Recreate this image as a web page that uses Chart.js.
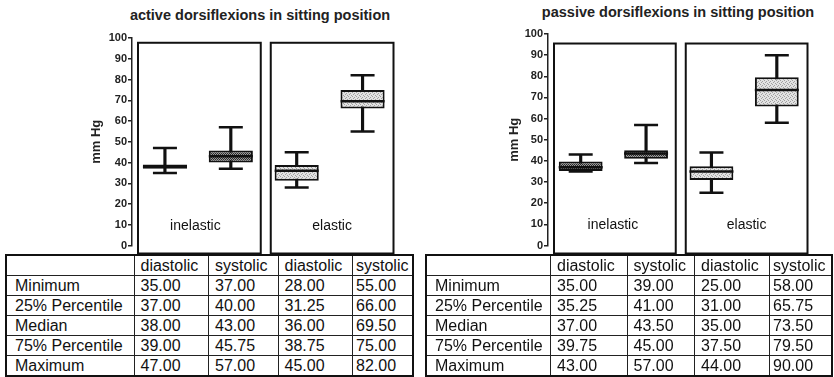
<!DOCTYPE html>
<html lang="en">
<head>
<meta charset="UTF-8">
<title>dorsiflexions in sitting position</title>
<script src="https://cdn.jsdelivr.net/npm/chart.js"></script>
<style>
    body {
        margin: 0;
        background: #fff;
        font-family: 'Liberation Sans', Arial, sans-serif;
        color: #111;
    }
    .page {
        position: relative;
        width: 834px;
        height: 377px;
        overflow: hidden;
    }
    .panel-title {
        position: absolute;
        font-weight: bold;
        font-size: 14.5px;
        white-space: nowrap;
        transform: translateX(-50%);
        color: #222;
    }
    canvas {
        position: absolute;
        top: 0;
    }
    table.stats {
        position: absolute;
        top: 254px;
        border-collapse: collapse;
        table-layout: fixed;
        font-size: 16px;
        border: 2px solid #111;
        background: #fff;
    }
    table.stats td {
        border: 1px solid #222;
        height: 19px;
        padding: 0 0 0 6px;
        line-height: 19px;
        white-space: nowrap;
        overflow: hidden;
    }
    table.stats td:first-child {
        padding-left: 8px;
    }
    table.stats td:last-child {
        padding-left: 3px;
    }
</style>
</head>
<body>
<div class="page">
    <div class="panel-title" style="left:260px; top:7px;">active dorsiflexions in sitting position</div>
    <div class="panel-title" style="left:678px; top:4px;">passive dorsiflexions in sitting position</div>
    <canvas id="active-chart" width="420" height="270" style="left:0;"></canvas>
    <canvas id="passive-chart" width="414" height="270" style="left:420px;"></canvas>
    <table class="stats" id="active-table" style="left:5px;"></table>
    <table class="stats" id="passive-table" style="left:425px;"></table>
</div>

<script>
    // categories and labels
    const categories = ['inelastic diastolic', 'inelastic systolic', 'elastic diastolic', 'elastic systolic'];
    const groupLabels = ['inelastic', 'elastic'];
    const columnLabels = ['diastolic', 'systolic', 'diastolic', 'systolic'];
    const rowLabels = ['Minimum', '25% Percentile', 'Median', '75% Percentile', 'Maximum'];
    const yMin = 0;
    const yMax = 100;
    const yStep = 10;

    // active dorsiflexions
    const activeMin = [35.00, 37.00, 28.00, 55.00];
    const activeQ1 = [37.00, 40.00, 31.25, 66.00];
    const activeMedian = [38.00, 43.00, 36.00, 69.50];
    const activeQ3 = [39.00, 45.75, 38.75, 75.00];
    const activeMax = [47.00, 57.00, 45.00, 82.00];

    // passive dorsiflexions
    const passiveMin = [35.00, 39.00, 25.00, 58.00];
    const passiveQ1 = [35.25, 41.00, 31.00, 65.75];
    const passiveMedian = [37.00, 43.50, 35.00, 73.50];
    const passiveQ3 = [39.75, 45.00, 37.50, 79.50];
    const passiveMax = [43.00, 57.00, 44.00, 90.00];

    const fontFamily = "'Liberation Sans', Arial, sans-serif";

    function makePattern(bg, fg, dots, size) {
        const c = document.createElement('canvas');
        c.width = size;
        c.height = size;
        const g = c.getContext('2d');
        g.fillStyle = bg;
        g.fillRect(0, 0, size, size);
        g.fillStyle = fg;
        dots.forEach(([x, y]) => g.fillRect(x, y, 1, 1));
        return g.createPattern(c, 'repeat');
    }

    const darkFill = makePattern('#9a9a9a', '#2a2a2a', [[0, 0], [2, 0], [1, 1], [3, 1], [0, 2], [2, 2], [1, 3], [3, 3]], 4);
    const lightFill = makePattern('#e2e2e2', '#a0a0a0', [[0, 0], [2, 1], [1, 2], [3, 3]], 4);

    // frames round each group, with the group name near the bottom
    function framePlugin(look) {
        return {
            id: 'frames',
            beforeDatasetsDraw(chart) {
                const { ctx, chartArea, scales: { x, y } } = chart;
                const split = (x.getPixelForValue(1) + x.getPixelForValue(2)) / 2;
                const top = y.getPixelForValue(look.frameTop);
                const bottom = chartArea.bottom + 8;
                const frames = [[chartArea.left + 6, split - 3], [split + 7, chartArea.right - 2]];
                ctx.save();
                ctx.strokeStyle = '#111';
                ctx.lineWidth = 2;
                ctx.fillStyle = '#111';
                ctx.font = '14px ' + fontFamily;
                ctx.textAlign = 'center';
                ctx.textBaseline = 'middle';
                frames.forEach(([l, r], i) => {
                    ctx.strokeRect(l, top, r - l, bottom - top);
                    ctx.fillText(groupLabels[i], (l + r) / 2 - look.labelShift[i], y.getPixelForValue(9.5));
                });
                ctx.restore();
            }
        };
    }

    function markerSet(label, data, radius) {
        return {
            type: 'line',
            label: label,
            data: data,
            showLine: false,
            pointStyle: 'line',
            pointRadius: radius,
            pointBorderWidth: 2.5,
            pointBorderColor: '#111',
            order: 1
        };
    }

    function drawPanel(canvasId, mins, q1s, medians, q3s, maxs, look) {
        const ctx = document.getElementById(canvasId).getContext('2d');
        const fills = categories.map((c, i) => i < 2 ? darkFill : lightFill);
        new Chart(ctx, {
            type: 'bar',
            data: {
                labels: categories,
                datasets: [
                    {
                        label: 'range',
                        data: mins.map((v, i) => [v, maxs[i]]),
                        backgroundColor: '#111',
                        barThickness: 2.5,
                        grouped: false,
                        order: 3
                    },
                    {
                        label: 'box',
                        data: q1s.map((v, i) => [v, q3s[i]]),
                        backgroundColor: fills,
                        borderColor: '#111',
                        borderWidth: 2,
                        borderSkipped: false,
                        barPercentage: 0.67,
                        categoryPercentage: 1,
                        grouped: false,
                        order: 2
                    },
                    markerSet('median', medians, 22),
                    markerSet('minimum', mins, 12),
                    markerSet('maximum', maxs, 12)
                ]
            },
            options: {
                responsive: false,
                animation: false,
                events: [],
                layout: { padding: look.padding },
                plugins: {
                    legend: { display: false },
                    tooltip: { enabled: false }
                },
                scales: {
                    x: { display: false, offset: true },
                    y: {
                        min: yMin,
                        max: yMax,
                        ticks: {
                            stepSize: yStep,
                            color: '#222',
                            padding: 1,
                            font: { size: 11, weight: 'bold', family: fontFamily }
                        },
                        grid: { drawOnChartArea: false, tickLength: 4, color: '#222', lineWidth: 1.5 },
                        border: { color: '#222', width: 1.5 },
                        title: { display: true, text: 'mm Hg', color: '#222', font: { size: 13, weight: 'bold', family: fontFamily } },
                        afterFit: (scale) => { scale.width = look.axisWidth; }
                    }
                }
            },
            plugins: [framePlugin(look)]
        });
    }

    function fillTable(tableId, stats, widths) {
        const table = document.getElementById(tableId);
        table.style.width = widths.reduce((a, b) => a + b, 0) + 'px';
        let html = '<colgroup>' + widths.map(w => `<col style="width:${w}px">`).join('') + '</colgroup>';
        html += '<tr><td></td>' + columnLabels.map(c => `<td>${c}</td>`).join('') + '</tr>';
        rowLabels.forEach((r, i) => {
            html += `<tr><td>${r}</td>` + stats[i].map(v => `<td>${v.toFixed(2)}</td>`).join('') + '</tr>';
        });
        table.innerHTML = html;
    }

    drawPanel('active-chart', activeMin, activeQ1, activeMedian, activeQ3, activeMax, {
        padding: { left: 85, right: 10, top: 38, bottom: 17 },
        axisWidth: 47,
        frameTop: 97.7,
        labelShift: [4, 0]
    });
    drawPanel('passive-chart', passiveMin, passiveQ1, passiveMedian, passiveQ3, passiveMax, {
        padding: { left: 83, right: 5, top: 34, bottom: 15 },
        axisWidth: 45,
        frameTop: 95.5,
        labelShift: [2, 0]
    });

    fillTable('active-table', [activeMin, activeQ1, activeMedian, activeQ3, activeMax], [128, 74.5, 69.5, 74.5, 60]);
    fillTable('passive-table', [passiveMin, passiveQ1, passiveMedian, passiveQ3, passiveMax], [124.5, 76.5, 67.5, 75, 62.5]);
</script>
</body>
</html>
